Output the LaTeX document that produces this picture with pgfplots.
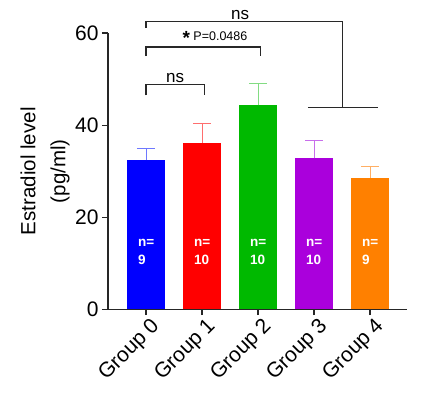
\documentclass[border=0pt]{standalone}
\usepackage{pgfplots}
\pgfplotsset{compat=1.18}
\usepackage{fontspec}
\setmainfont{Liberation Sans}
\definecolor{c0}{RGB}{0,0,255}
\definecolor{c0l}{RGB}{110,120,255}
\definecolor{c1}{RGB}{255,0,0}
\definecolor{c1l}{RGB}{255,110,110}
\definecolor{c2}{RGB}{0,185,0}
\definecolor{c2l}{RGB}{130,220,130}
\definecolor{c3}{RGB}{170,0,220}
\definecolor{c3l}{RGB}{200,110,235}
\definecolor{c4}{RGB}{255,128,0}
\definecolor{c4l}{RGB}{255,175,100}
\definecolor{br}{RGB}{40,40,40}
\begin{document}
\begin{tikzpicture}
\begin{axis}[
 scale only axis, width=299pt, height=276pt,
 xmin=-0.68, xmax=4.66, ymin=0, ymax=60,
 axis lines=left, axis line style={-, line width=1.3pt, black!85},
 ytick={0,20,40,60}, xtick={0,1,2,3,4},
 xticklabels={Group 0,Group 1,Group 2,Group 3,Group 4},
 xticklabel style={rotate=45, anchor=north east, xshift=5pt, font=\fontsize{21}{21}\selectfont},
 yticklabel style={font=\fontsize{21}{21}\selectfont},
 /pgf/number format/assume math mode=true,
 tick style={line width=1.3pt, black!85}, major tick length=6pt, tick align=outside,
 ylabel={Estradiol level\\(pg/ml)},
 ylabel style={align=center, font=\fontsize{20.5}{30}\selectfont, at={(axis description cs:-0.21,0.5)}, anchor=center},
 clip=false,
 ybar, bar width=0.68,
]
\addplot[fill=c0, draw=none, bar shift=0pt, error bars/.cd, y dir=plus, y explicit, error bar style={c0l, line width=1.1pt}, error mark options={rotate=90, mark size=9pt, line width=1.1pt, c0l}] coordinates {(0,32.4) +- (0,2.6)};
\addplot[fill=c1, draw=none, bar shift=0pt, error bars/.cd, y dir=plus, y explicit, error bar style={c1l, line width=1.1pt}, error mark options={rotate=90, mark size=9pt, line width=1.1pt, c1l}] coordinates {(1,36.1) +- (0,4.3)};
\addplot[fill=c2, draw=none, bar shift=0pt, error bars/.cd, y dir=plus, y explicit, error bar style={c2l, line width=1.1pt}, error mark options={rotate=90, mark size=9pt, line width=1.1pt, c2l}] coordinates {(2,44.3) +- (0,4.8)};
\addplot[fill=c3, draw=none, bar shift=0pt, error bars/.cd, y dir=plus, y explicit, error bar style={c3l, line width=1.1pt}, error mark options={rotate=90, mark size=9pt, line width=1.1pt, c3l}] coordinates {(3,32.8) +- (0,3.9)};
\addplot[fill=c4, draw=none, bar shift=0pt, error bars/.cd, y dir=plus, y explicit, error bar style={c4l, line width=1.1pt}, error mark options={rotate=90, mark size=9pt, line width=1.1pt, c4l}] coordinates {(4,28.5) +- (0,2.5)};
% n labels
\foreach \i/\n in {0/9,1/10,2/10,3/10,4/9}{
 \edef\tmp{\noexpand\node[white, font=\noexpand\fontsize{13.5}{18}\noexpand\selectfont\noexpand\bfseries, align=left] at (axis cs:\i,12.4) {n=\noexpand\\\n};}\tmp
}
% brackets
\draw[br, line width=1.2pt] (axis cs:0,61.1) -- (axis cs:0,62.6) -- (axis cs:3.5,62.6) -- (axis cs:3.5,43.9);
\draw[br, line width=1.2pt] (axis cs:2.89,43.9) -- (axis cs:4.14,43.9);
\node[anchor=south, inner sep=1pt, font=\fontsize{17}{17}\selectfont] at (axis cs:1.68,62.6) {ns};
\draw[br, line width=1.2pt] (axis cs:0,55.0) -- (axis cs:0,57.0) -- (axis cs:2.04,57.0) -- (axis cs:2.04,55.0);
\node[anchor=south, inner sep=2pt, font=\fontsize{12.5}{13}\selectfont] at (axis cs:1.23,57.0) {{\fontsize{19}{19}\selectfont\bfseries\raisebox{-4pt}{*}}\ P=0.0486};
\draw[br, line width=1.2pt] (axis cs:0,46.5) -- (axis cs:0,48.9) -- (axis cs:1.05,48.9) -- (axis cs:1.05,46.5);
\node[anchor=south, inner sep=1pt, font=\fontsize{17}{17}\selectfont] at (axis cs:0.52,48.9) {ns};
\path (rel axis cs:-0.361,-0.301) rectangle (rel axis cs:1.120,1.120);
\end{axis}
\end{tikzpicture}
\end{document}
